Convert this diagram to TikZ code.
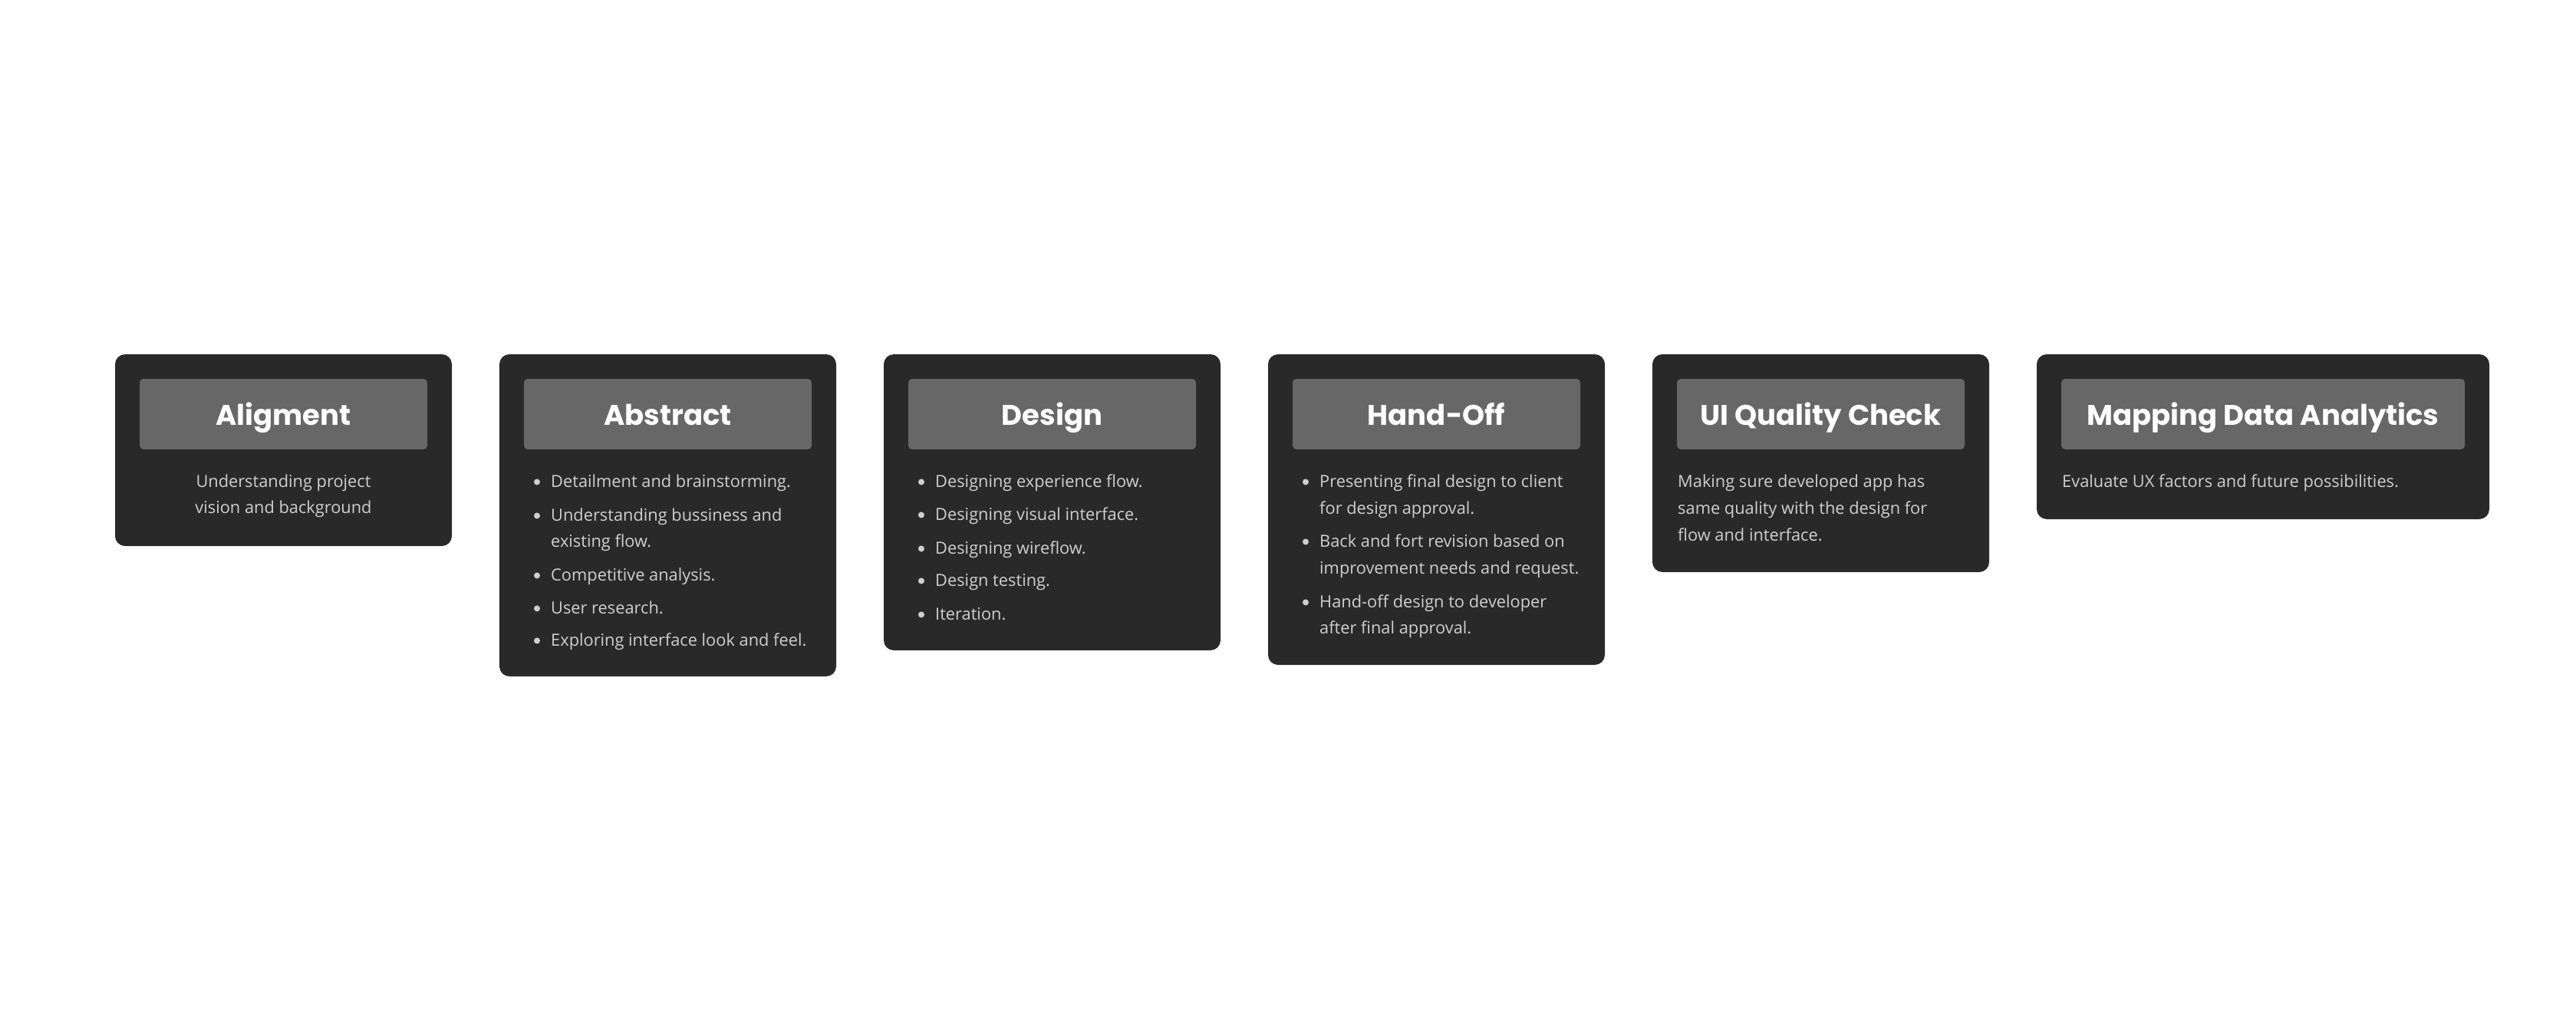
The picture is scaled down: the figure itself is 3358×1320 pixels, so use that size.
\documentclass[tikz,border=0pt]{standalone}
\usepackage{fontspec}
\setmainfont{Open Sans}
\newfontfamily\titlefont{Poppins}
\definecolor{cardbg}{HTML}{292929}
\definecolor{headbg}{HTML}{676767}
\definecolor{bodytxt}{HTML}{CFCFCF}
\newcommand\mycard[5]{%
  \fill[cardbg, rounded corners=13pt] (#2,462) rectangle (#3,#4);
  \fill[headbg, rounded corners=5pt] (#2+32,494) rectangle (#3-32,586);
  \node[ttl] (#1) at ({(#2+#3)/2},554) {#5};
}
\newcommand\bitem[4]{%
  \fill[bodytxt] (#2-18,#3-6.5) circle (4);
  \node[bodyline] (#1) at (#2,#3) {#4};
}
\begin{document}
\begin{tikzpicture}[x=1pt,y=-1pt,
  ttl/.style={font=\titlefont\bfseries\fontsize{37}{44}\selectfont, text=white, inner sep=0pt, anchor=base},
  bodyline/.style={font=\fontsize{21.8}{34}\selectfont, text=bodytxt, inner sep=0pt, anchor=base west},
  bodyc/.style={font=\fontsize{21.8}{34}\selectfont, text=bodytxt, inner sep=0pt, anchor=base}]
\useasboundingbox[fill=white] (0,0) rectangle (3358,1320);

% Card 1
\mycard{t1}{150}{589}{712}{Aligment}
\node[bodyc] (a1) at (369.5,635) {Understanding project};
\node[bodyc] (a2) at (369.5,669) {vision and background};

% Card 2
\mycard{t2}{651}{1090}{882}{Abstract}
\bitem{b1}{718}{635}{Detailment and brainstorming.}
\bitem{b2}{718}{679}{Understanding bussiness and}
\node[bodyline] (b2b) at (718,713) {existing flow.};
\bitem{b3}{718}{757}{Competitive analysis.}
\bitem{b4}{718}{800}{User research.}
\bitem{b5}{718}{842}{Exploring interface look and feel.}

% Card 3
\mycard{t3}{1152}{1591}{848}{Design}
\bitem{c1}{1219}{635}{Designing experience flow.}
\bitem{c2}{1219}{678}{Designing visual interface.}
\bitem{c3}{1219}{722}{Designing wireflow.}
\bitem{c4}{1219}{764}{Design testing.}
\bitem{c5}{1219}{808}{Iteration.}

% Card 4
\mycard{t4}{1653}{2092}{867}{Hand-Off}
\bitem{d1}{1720}{635}{Presenting final design to client}
\node[bodyline] (d1b) at (1720,670) {for design approval.};
\bitem{d2}{1720}{713}{Back and fort revision based on}
\node[bodyline] (d2b) at (1720,748) {improvement needs and request.};
\bitem{d3}{1720}{792}{Hand-off design to developer}
\node[bodyline] (d3b) at (1720,826) {after final approval.};

% Card 5
\mycard{t5}{2154}{2593}{746}{UI Quality Check}
\node[bodyline] (e1) at (2187,635) {Making sure developed app has};
\node[bodyline] (e2) at (2187,670) {same quality with the design for};
\node[bodyline] (e3) at (2187,705) {flow and interface.};

% Card 6
\mycard{t6}{2655}{3245}{677}{Mapping Data Analytics}
\node[bodyline] (f1) at (2688,635) {Evaluate UX factors and future possibilities.};
\end{tikzpicture}
\end{document}
